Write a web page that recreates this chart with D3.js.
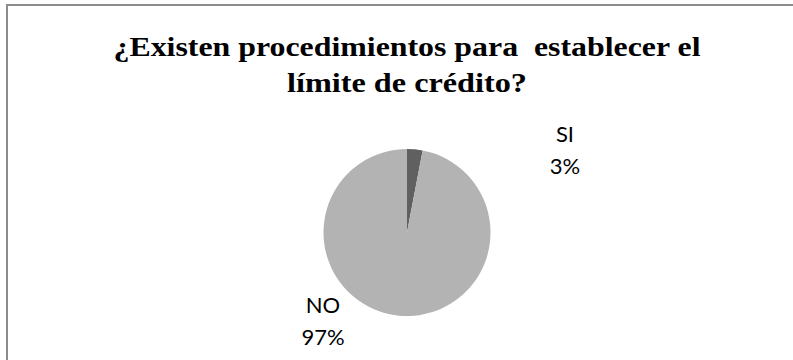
<!DOCTYPE html>
<html>
<head>
<meta charset="utf-8">
<script src="https://cdn.jsdelivr.net/npm/d3@7"></script>
<style>
  html, body { margin: 0; padding: 0; background: #fff; }
  svg { display: block; }
</style>
</head>
<body>
<svg id="chart" width="793" height="360"></svg>
<script>
// Survey answers and their shares (percent)
const categories = ["SI", "NO"];
const values = [3, 97];
const sliceColors = ["#606060", "#b3b3b3"];
const titleLines = ["¿Existen procedimientos para  establecer el", "límite de crédito?"];

const svg = d3.select("#chart");

// Chart area frame (runs off the right and bottom edges)
svg.append("rect")
  .attr("x", 7).attr("y", 5)
  .attr("width", 800).attr("height", 400)
  .attr("fill", "#fff")
  .attr("stroke", "#8c8c8c")
  .attr("stroke-width", 2);

// Title, two centred lines of a wide bold serif
const titleWidths = [587, 240];
const title = svg.append("text")
  .attr("text-anchor", "middle")
  .attr("font-family", "'Liberation Serif', 'Times New Roman', serif")
  .attr("font-weight", "bold")
  .attr("font-size", 27)
  .attr("fill", "#000")
  .attr("xml:space", "preserve");
title.selectAll("tspan")
  .data(titleLines)
  .join("tspan")
  .attr("x", 407)
  .attr("y", (d, i) => 56 + i * 36)
  .attr("textLength", (d, i) => titleWidths[i])
  .attr("lengthAdjust", "spacingAndGlyphs")
  .text(d => d);

// Pie
const cx = 407, cy = 232.5, r = 83.5;
const pie = d3.pie().sort(null).value(d => d.value);
const arcs = pie(categories.map((c, i) => ({ cat: c, value: values[i] })));
const arc = d3.arc().innerRadius(0).outerRadius(r);

const g = svg.append("g").attr("transform", `translate(${cx},${cy})`);
g.selectAll("path")
  .data(arcs)
  .join("path")
  .attr("d", arc)
  .attr("fill", (d, i) => sliceColors[i]);

// Data labels (category + percent), placed outside the pie
const labelPos = [
  { x: 565, y: 142 },
  { x: 323, y: 313 }
];
const labels = svg.append("g")
  .attr("font-family", "Lato, 'Open Sans', 'Noto Sans', sans-serif")
  .attr("font-size", 22)
  .attr("fill", "#000")
  .attr("text-anchor", "middle");
labels.selectAll("text")
  .data(arcs)
  .join("text")
  .each(function (d, i) {
    const t = d3.select(this);
    t.append("tspan").attr("x", labelPos[i].x).attr("y", labelPos[i].y).text(d.data.cat);
    t.append("tspan").attr("x", labelPos[i].x).attr("y", labelPos[i].y + 32)
      .text(d3.format(".0f")(d.data.value) + "%");
  });
</script>
</body>
</html>
